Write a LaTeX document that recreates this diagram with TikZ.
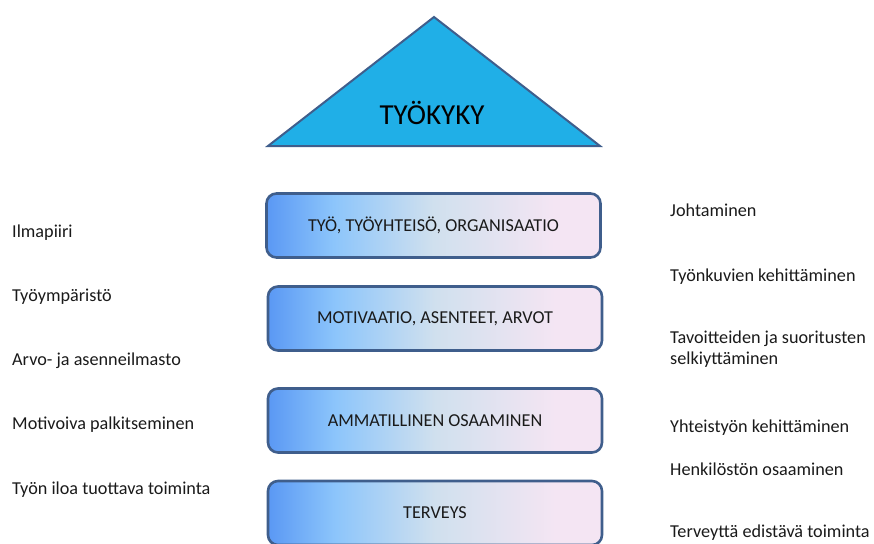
\documentclass[tikz,border=0pt]{standalone}
\usepackage{fontspec}
\setmainfont{Carlito}
\definecolor{sA}{HTML}{5A98F4}
\definecolor{sB}{HTML}{8CC5FB}
\definecolor{sC}{HTML}{D0E0EE}
\definecolor{sD}{HTML}{F4E5F3}
\definecolor{edge}{HTML}{3F5E8C}
\definecolor{trifill}{HTML}{20AFE7}
\definecolor{txt}{HTML}{1A1A1A}
\pgfdeclarehorizontalshading{stageshade}{100bp}{color(0bp)=(sA); color(25bp)=(sA); color(35bp)=(sB); color(50bp)=(sC); color(68bp)=(sD); color(100bp)=(sD)}
\tikzset{
  stagebox/.style={draw=edge, line width=2.6pt, rounded corners=10pt, shading=stageshade,
    minimum width=334pt, minimum height=64pt, inner sep=0pt, font=\fontsize{18.2}{21}\selectfont, text=txt},
  sidetext/.style={anchor=base west, inner sep=0pt, font=\fontsize{18.2}{21}\selectfont, text=txt, align=left},
  roof/.style={draw=edge, line width=2pt, fill=trifill, line join=miter}
}
\begin{document}
\begin{tikzpicture}[x=1pt,y=-1pt]
\useasboundingbox (0,0) rectangle (874,543);
% roof
\coordinate (apex) at (434,17);
\coordinate (bl) at (268,146);
\coordinate (br) at (600,146);
\draw[roof] (bl) -- (apex) -- (br) -- cycle;
\node[font=\fontsize{29}{32}\selectfont, text=black, inner sep=0pt] (tyokyky) at (432,113) {TYÖKYKY};
% stages
\node[stagebox] (b1) at (433.5,225.5) {TYÖ, TYÖYHTEISÖ, ORGANISAATIO};
\node[stagebox] (b2) at (435,318.5) {MOTIVAATIO, ASENTEET, ARVOT};
\node[stagebox] (b3) at (435,420.5) {AMMATILLINEN OSAAMINEN};
\node[stagebox] (b4) at (435,513) {TERVEYS};
% left texts
\node[sidetext] (l1) at (12,237) {Ilmapiiri};
\node[sidetext] (l2) at (12,301) {Työympäristö};
\node[sidetext] (l3) at (12,365) {Arvo- ja asenneilmasto};
\node[sidetext] (l4) at (12,429.5) {Motivoiva palkitseminen};
\node[sidetext] (l5) at (12,494.5) {Työn iloa tuottava toiminta};
% right texts
\node[sidetext] (r1) at (670,216) {Johtaminen};
\node[sidetext] (r2) at (670,281.5) {Työnkuvien kehittäminen};
\node[sidetext, anchor=north west] (r3) at (670,331) {Tavoitteiden ja suoritusten\\selkiyttäminen};
\node[sidetext] (r4) at (670,432) {Yhteistyön kehittäminen};
\node[sidetext] (r5) at (670,475) {Henkilöstön osaaminen};
\node[sidetext] (r6) at (670,537) {Terveyttä edistävä toiminta};
\end{tikzpicture}
\end{document}
